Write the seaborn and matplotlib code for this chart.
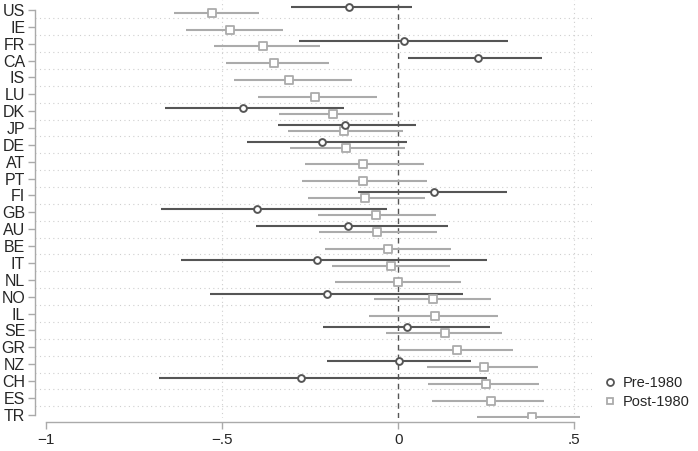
import numpy as np
import pandas as pd
import matplotlib
matplotlib.use("Agg")
import matplotlib.pyplot as plt
from matplotlib.lines import Line2D
import seaborn as sns

countries = ["US", "IE", "FR", "CA", "IS", "LU", "DK", "JP", "DE", "AT", "PT", "FI", "GB",
             "AU", "BE", "IT", "NL", "NO", "IL", "SE", "GR", "NZ", "CH", "ES", "TR"]

# Pre-1980 estimates (NaN where absent)
pre_est = [-0.139, np.nan, 0.016, 0.226, np.nan, np.nan, -0.442, -0.151, -0.216, np.nan, np.nan, 0.101, -0.402,
           -0.142, np.nan, -0.230, np.nan, -0.202, np.nan, 0.024, np.nan, 0.002, -0.277, np.nan, np.nan]
pre_lo = [-0.306, np.nan, -0.281, 0.027, np.nan, np.nan, -0.662, -0.341, -0.431, np.nan, np.nan, -0.115, -0.673,
          -0.404, np.nan, -0.618, np.nan, -0.535, np.nan, -0.215, np.nan, -0.202, -0.679, np.nan, np.nan]
pre_hi = [0.038, np.nan, 0.311, 0.407, np.nan, np.nan, -0.153, 0.050, 0.024, np.nan, np.nan, 0.310, -0.033,
          0.142, np.nan, 0.251, np.nan, 0.184, np.nan, 0.260, np.nan, 0.206, 0.253, np.nan, np.nan]

# Post-1980 estimates
post_est = [-0.528, -0.479, -0.384, -0.353, -0.310, -0.236, -0.184, -0.154, -0.149, -0.100, -0.099, -0.094, -0.063,
            -0.059, -0.030, -0.021, -0.002, 0.099, 0.103, 0.132, 0.167, 0.244, 0.249, 0.262, 0.379]
post_lo = [-0.637, -0.604, -0.524, -0.490, -0.467, -0.397, -0.340, -0.312, -0.308, -0.266, -0.273, -0.256, -0.229,
           -0.224, -0.207, -0.188, -0.180, -0.069, -0.082, -0.036, 0.003, 0.081, 0.085, 0.097, 0.223]
post_hi = [-0.395, -0.328, -0.222, -0.196, -0.132, -0.060, -0.016, 0.014, 0.020, 0.072, 0.082, 0.075, 0.106,
           0.109, 0.150, 0.148, 0.177, 0.263, 0.283, 0.294, 0.325, 0.397, 0.399, 0.415, 0.517]

x_ticks = [-1, -0.5, 0, 0.5]
x_ticklabels = ["\u22121", "\u2212.5", "0", ".5"]
series_labels = ["Pre-1980", "Post-1980"]

PRE_C = "#555555"
POST_C = "#ababab"

sns.set_theme(style="white")
plt.rcParams["font.family"] = ["Liberation Sans", "DejaVu Sans"]

pos = np.arange(len(countries))
pre = pd.DataFrame({"country": countries, "est": pre_est, "lo": pre_lo, "hi": pre_hi,
                    "y": pos - 0.18}).dropna()
post = pd.DataFrame({"country": countries, "est": post_est, "lo": post_lo, "hi": post_hi,
                     "y": pos + 0.16})

fig = plt.figure(figsize=(6.98, 4.51), dpi=100)
ax = fig.add_axes([0.050, 0.073, 0.798, 0.927])

# grid
for yy in pos[:-1] + 0.5:
    ax.axhline(yy, color="#cfcfcf", lw=0.8, ls=(0, (1, 3)), zorder=0)
for xx in [-0.5, 0.5]:
    ax.axvline(xx, color="#cfcfcf", lw=0.8, ls=(0, (1, 3)), zorder=0)
ax.axvline(0, color="#555555", lw=1.0, ls=(0, (4, 3)), zorder=1)

# CIs
ax.hlines(post["y"], post["lo"], post["hi"], color=POST_C, lw=1.5, zorder=2)
ax.hlines(pre["y"], pre["lo"], pre["hi"], color=PRE_C, lw=1.5, zorder=3)

sns.scatterplot(data=post, x="est", y="y", marker="s", s=26, facecolor="white",
                edgecolor=POST_C, linewidth=1.3, ax=ax, zorder=4)
sns.scatterplot(data=pre, x="est", y="y", marker="o", s=24, facecolor="white",
                edgecolor=PRE_C, linewidth=1.4, ax=ax, zorder=5)

ax.set_xlim(-1.032, 0.55)
ax.set_ylim(24.2, -0.59)
ax.set_xlabel("")
ax.set_ylabel("")
ax.set_yticks(pos)
ax.set_yticklabels(countries, fontsize=11.5)
ax.set_xticks(x_ticks)
ax.set_xticklabels(x_ticklabels, fontsize=10.5)

for s in ["top", "right"]:
    ax.spines[s].set_visible(False)
ax.spines["left"].set_bounds(0, len(countries) - 1)
ax.spines["bottom"].set_bounds(-1, 0.5)
ax.spines["bottom"].set_position(("outward", 3))
for s in ["left", "bottom"]:
    ax.spines[s].set_color("#aaaaaa")
    ax.spines[s].set_linewidth(1.0)
ax.tick_params(axis="y", length=5, width=1, color="#aaaaaa", pad=2, left=True)
ax.tick_params(axis="x", length=5, width=1, color="#aaaaaa", pad=3, bottom=True)

handles = [
    Line2D([], [], marker="o", ls="none", markerfacecolor="white", markeredgecolor=PRE_C,
           markeredgewidth=1.3, markersize=5),
    Line2D([], [], marker="s", ls="none", markerfacecolor="white", markeredgecolor=POST_C,
           markeredgewidth=1.3, markersize=5),
]
fig.legend(handles, series_labels, loc="center left", bbox_to_anchor=(0.855, 0.129),
           frameon=False, fontsize=10.5, handlelength=1.0, handletextpad=0.4,
           labelspacing=0.35, borderaxespad=0)

fig.savefig("out.png", dpi=100)
